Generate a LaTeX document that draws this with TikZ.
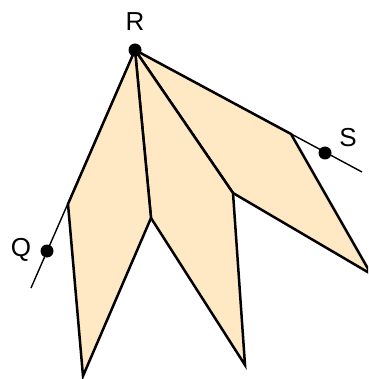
\documentclass[tikz,border=0pt]{standalone}
\usepackage{fontspec}
\setmainfont{Liberation Sans}
\definecolor{leaf}{RGB}{255,233,196}
\begin{document}
\begin{tikzpicture}[x=1pt,y=-1pt,
  leafshape/.style={draw=black,fill=leaf,line width=2.5pt,line join=miter},
  thinline/.style={draw=black,line width=1.4pt},
  dot/.style={circle,fill=black,inner sep=0pt,minimum size=13pt},
  lbl/.style={font=\fontsize{26}{30}\selectfont,inner sep=0pt}]
\useasboundingbox (0,0) rectangle (368,379);
\clip (0,0) rectangle (368,379);
\coordinate (R) at (135,50);
\coordinate (A) at (68,204);
\coordinate (B) at (83,376);
\coordinate (C) at (151,218);
\coordinate (D) at (245,365);
\coordinate (E) at (233,193);
\coordinate (F) at (371,274);
\coordinate (G) at (291,134);
\coordinate (Qend) at (31,288);
\coordinate (Send) at (362,172);
\draw[thinline] (R) -- (Qend);
\draw[thinline] (R) -- (Send);
\filldraw[leafshape] (R) -- (E) -- (F) -- (G) -- cycle;
\filldraw[leafshape] (R) -- (C) -- (D) -- (E) -- cycle;
\filldraw[leafshape] (R) -- (A) -- (B) -- (C) -- cycle;
\node[dot] (Rd) at (R) {};
\node[dot] (Qd) at (47,251) {};
\node[dot] (Sd) at (325,153) {};
\node[lbl] (Rl) at (135,22) {R};
\node[lbl] (Ql) at (21,250) {Q};
\node[lbl] (Sl) at (348,138) {S};
\end{tikzpicture}
\end{document}
